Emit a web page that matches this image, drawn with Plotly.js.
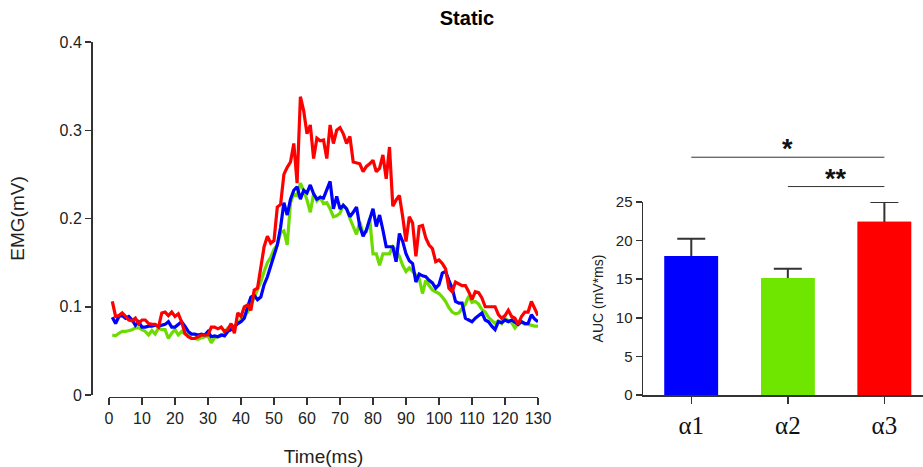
<!DOCTYPE html>
<html>
<head>
<meta charset="utf-8">
<script src="https://cdn.plot.ly/plotly-3.0.1.min.js"></script>
<style>html,body{margin:0;padding:0;background:#fff;}#chart{width:923px;height:467px;}</style>
</head>
<body>
<div id="chart"></div>
<script>
// ---- Data ----
const timeMs = Array.from({length: 130}, (_, i) => i + 1);

const emgRed = [
  0.106,0.089,0.090,0.093,0.089,0.085,0.084,0.087,0.081,0.085,
  0.085,0.081,0.080,0.080,0.077,0.093,0.094,0.090,0.094,0.089,
  0.092,0.083,0.070,0.066,0.064,0.064,0.066,0.068,0.068,0.068,
  0.077,0.077,0.075,0.077,0.072,0.074,0.081,0.070,0.093,0.089,
  0.100,0.102,0.096,0.119,0.121,0.145,0.168,0.180,0.172,0.175,
  0.213,0.216,0.250,0.258,0.264,0.285,0.240,0.338,0.322,0.296,
  0.306,0.268,0.291,0.288,0.289,0.268,0.306,0.285,0.300,0.303,
  0.296,0.285,0.293,0.264,0.263,0.262,0.253,0.259,0.262,0.266,
  0.253,0.257,0.272,0.245,0.281,0.214,0.221,0.226,0.202,0.174,
  0.202,0.195,0.157,0.191,0.192,0.178,0.170,0.166,0.151,0.153,
  0.149,0.143,0.121,0.117,0.128,0.126,0.124,0.124,0.117,0.108,
  0.117,0.116,0.110,0.100,0.100,0.100,0.100,0.091,0.087,0.090,
  0.096,0.089,0.087,0.080,0.089,0.094,0.094,0.106,0.097,0.090
];

const emgBlue = [
  0.088,0.081,0.089,0.090,0.087,0.089,0.085,0.079,0.083,0.077,
  0.077,0.078,0.078,0.079,0.078,0.079,0.080,0.083,0.077,0.077,
  0.080,0.083,0.078,0.072,0.069,0.069,0.068,0.069,0.068,0.072,
  0.066,0.067,0.066,0.068,0.067,0.072,0.074,0.078,0.081,0.083,
  0.087,0.100,0.111,0.113,0.108,0.111,0.125,0.134,0.145,0.158,
  0.170,0.190,0.218,0.204,0.222,0.232,0.236,0.222,0.232,0.229,
  0.238,0.228,0.222,0.224,0.223,0.232,0.242,0.211,0.225,0.211,
  0.215,0.211,0.202,0.207,0.213,0.191,0.180,0.187,0.200,0.211,
  0.191,0.204,0.187,0.168,0.168,0.168,0.151,0.183,0.174,0.160,
  0.152,0.149,0.128,0.137,0.135,0.134,0.130,0.127,0.121,0.125,
  0.138,0.140,0.130,0.121,0.106,0.104,0.104,0.087,0.085,0.083,
  0.087,0.090,0.093,0.085,0.083,0.078,0.074,0.083,0.082,0.085,
  0.083,0.085,0.082,0.080,0.083,0.081,0.081,0.091,0.086,0.083
];

const emgGreen = [
  0.068,0.067,0.070,0.072,0.072,0.073,0.074,0.076,0.076,0.074,
  0.072,0.068,0.073,0.069,0.076,0.074,0.074,0.064,0.070,0.074,
  0.068,0.072,0.069,0.068,0.064,0.064,0.063,0.065,0.066,0.067,
  0.059,0.065,0.066,0.067,0.070,0.076,0.078,0.078,0.081,0.085,
  0.089,0.094,0.102,0.110,0.119,0.128,0.140,0.150,0.156,0.165,
  0.170,0.184,0.186,0.170,0.218,0.228,0.226,0.240,0.232,0.221,
  0.207,0.228,0.220,0.224,0.217,0.218,0.211,0.202,0.203,0.206,
  0.215,0.211,0.200,0.191,0.182,0.196,0.183,0.185,0.200,0.160,
  0.160,0.147,0.160,0.160,0.160,0.168,0.164,0.157,0.147,0.140,
  0.144,0.140,0.136,0.132,0.115,0.130,0.124,0.119,0.117,0.115,
  0.111,0.106,0.099,0.094,0.092,0.093,0.098,0.103,0.112,0.105,
  0.106,0.103,0.097,0.094,0.088,0.084,0.081,0.084,0.081,0.087,
  0.085,0.082,0.076,0.081,0.083,0.080,0.080,0.079,0.078,0.078
];

const groups = ['α1', 'α2', 'α3'];
const aucMean = [18.0, 15.15, 22.45];
const aucSem = [2.25, 1.2, 2.55];

const emgTicks = [0, 0.1, 0.2, 0.3, 0.4];
const emgTickText = ['0', '0.1', '0.2', '0.3', '0.4'];
const timeTicks = [0,10,20,30,40,50,60,70,80,90,100,110,120,130];
const aucTicks = [0, 5, 10, 15, 20, 25];

const sigPairs = [['α1', 'α3'], ['α2', 'α3']];
const sigLevels = [30.8, 27.0];
const sigLabels = ['*', '**'];

// ---- Styles ----
const RED = '#ff0000', BLUE = '#0000ff', GREEN = '#6cdc00', BARGREEN = '#6ee600';
const AX = '#333333';
const SANS = 'Liberation Sans, Arial, sans-serif';
const barColors = [BLUE, BARGREEN, RED];

const traces = [
  {x: timeMs, y: emgGreen, type: 'scatter', mode: 'lines', line: {color: GREEN, width: 3.2}, xaxis: 'x', yaxis: 'y', name: 'α2'},
  {x: timeMs, y: emgBlue, type: 'scatter', mode: 'lines', line: {color: BLUE, width: 3.2}, xaxis: 'x', yaxis: 'y', name: 'α1'},
  {x: timeMs, y: emgRed, type: 'scatter', mode: 'lines', line: {color: RED, width: 3.2}, xaxis: 'x', yaxis: 'y', name: 'α3'},
  // bars carrying the (upper) error bars
  {x: groups, y: aucMean, type: 'bar', width: 0.555, xaxis: 'x2', yaxis: 'y2',
   marker: {color: barColors, line: {width: 0}},
   error_y: {type: 'data', array: aucSem, arrayminus: aucSem.map(() => 0.5), symmetric: false,
             color: AX, thickness: 2, width: 14}},
  // same bars drawn again on top so only the upper whisker shows
  {x: groups, y: aucMean, type: 'bar', width: 0.555, xaxis: 'x2', yaxis: 'y2',
   marker: {color: barColors, line: {width: 0}}}
];

sigPairs.forEach((p, i) => {
  traces.push({x: p, y: [sigLevels[i], sigLevels[i]], type: 'scatter', mode: 'lines',
    line: {color: AX, width: 1}, xaxis: 'x2', yaxis: 'y3', hoverinfo: 'skip'});
});

const annotations = sigPairs.map((p, i) => ({
  x: (groups.indexOf(p[0]) + groups.indexOf(p[1])) / 2,
  y: sigLevels[i], xref: 'x2', yref: 'y3', text: '<b>' + sigLabels[i] + '</b>', showarrow: false,
  xanchor: 'center', yanchor: 'bottom', yshift: -9,
  font: {family: SANS, size: 27, color: '#111'}
}));

const layout = {
  width: 923, height: 467,
  margin: {l: 0, r: 0, t: 0, b: 0},
  paper_bgcolor: '#fff', plot_bgcolor: 'rgba(0,0,0,0)',
  showlegend: false,
  barmode: 'overlay',
  font: {family: SANS, color: '#111'},
  title: {text: '<b>Static</b>', x: 467/923, xanchor: 'center', y: 1 - 18/467, yanchor: 'middle',
          font: {family: SANS, size: 20, color: '#000'}},
  xaxis: {domain: [109/923, 538/923], range: [0, 130], anchor: 'free', position: 1 - 396.5/467,
          tickvals: timeTicks, ticks: 'outside', ticklen: 7, tickwidth: 1.5, tickcolor: AX,
          showline: true, linecolor: AX, linewidth: 1.5, showgrid: false, zeroline: false,
          tickfont: {size: 16, color: '#222'},
          title: {text: 'Time(ms)', font: {size: 19, color: '#222'}, standoff: 23}},
  yaxis: {domain: [1 - 395/467, 1 - 42/467], range: [0, 0.4], anchor: 'free', position: 91/923,
          tickvals: emgTicks, ticktext: emgTickText, ticks: 'outside', ticklen: 6, tickwidth: 1.5, tickcolor: AX,
          showline: true, linecolor: AX, linewidth: 1.5, showgrid: false, zeroline: false,
          tickfont: {size: 16, color: '#222'},
          title: {text: 'EMG(mV)', font: {size: 19, color: '#222'}, standoff: 28}},
  xaxis2: {domain: [643/923, 1], range: [-0.5, 2.4], anchor: 'y2', type: 'category',
           ticks: 'outside', ticklen: 7, tickwidth: 1.5, tickcolor: AX,
           showline: true, linecolor: AX, linewidth: 1.5, showgrid: false, zeroline: false,
           tickfont: {family: 'Liberation Serif, Times New Roman, serif', size: 25, color: '#111'}},
  yaxis2: {domain: [1 - 395/467, 1 - 202/467], range: [0, 25], anchor: 'x2',
           tickvals: aucTicks, ticks: 'outside', ticklen: 6, tickwidth: 1.5, tickcolor: AX,
           showline: true, linecolor: AX, linewidth: 1.5, showgrid: false, zeroline: false,
           tickfont: {size: 15, color: '#222'},
           title: {text: 'AUC (mV*ms)', font: {size: 14, color: '#222'}, standoff: 9}},
  yaxis3: {domain: [1 - 202/467, 1 - 202/467 + 9 * 7.72 / 467], range: [25, 34], anchor: 'x2', visible: false},
  annotations: annotations
};

Plotly.newPlot('chart', traces, layout, {displayModeBar: false, staticPlot: true});
</script>
</body>
</html>
